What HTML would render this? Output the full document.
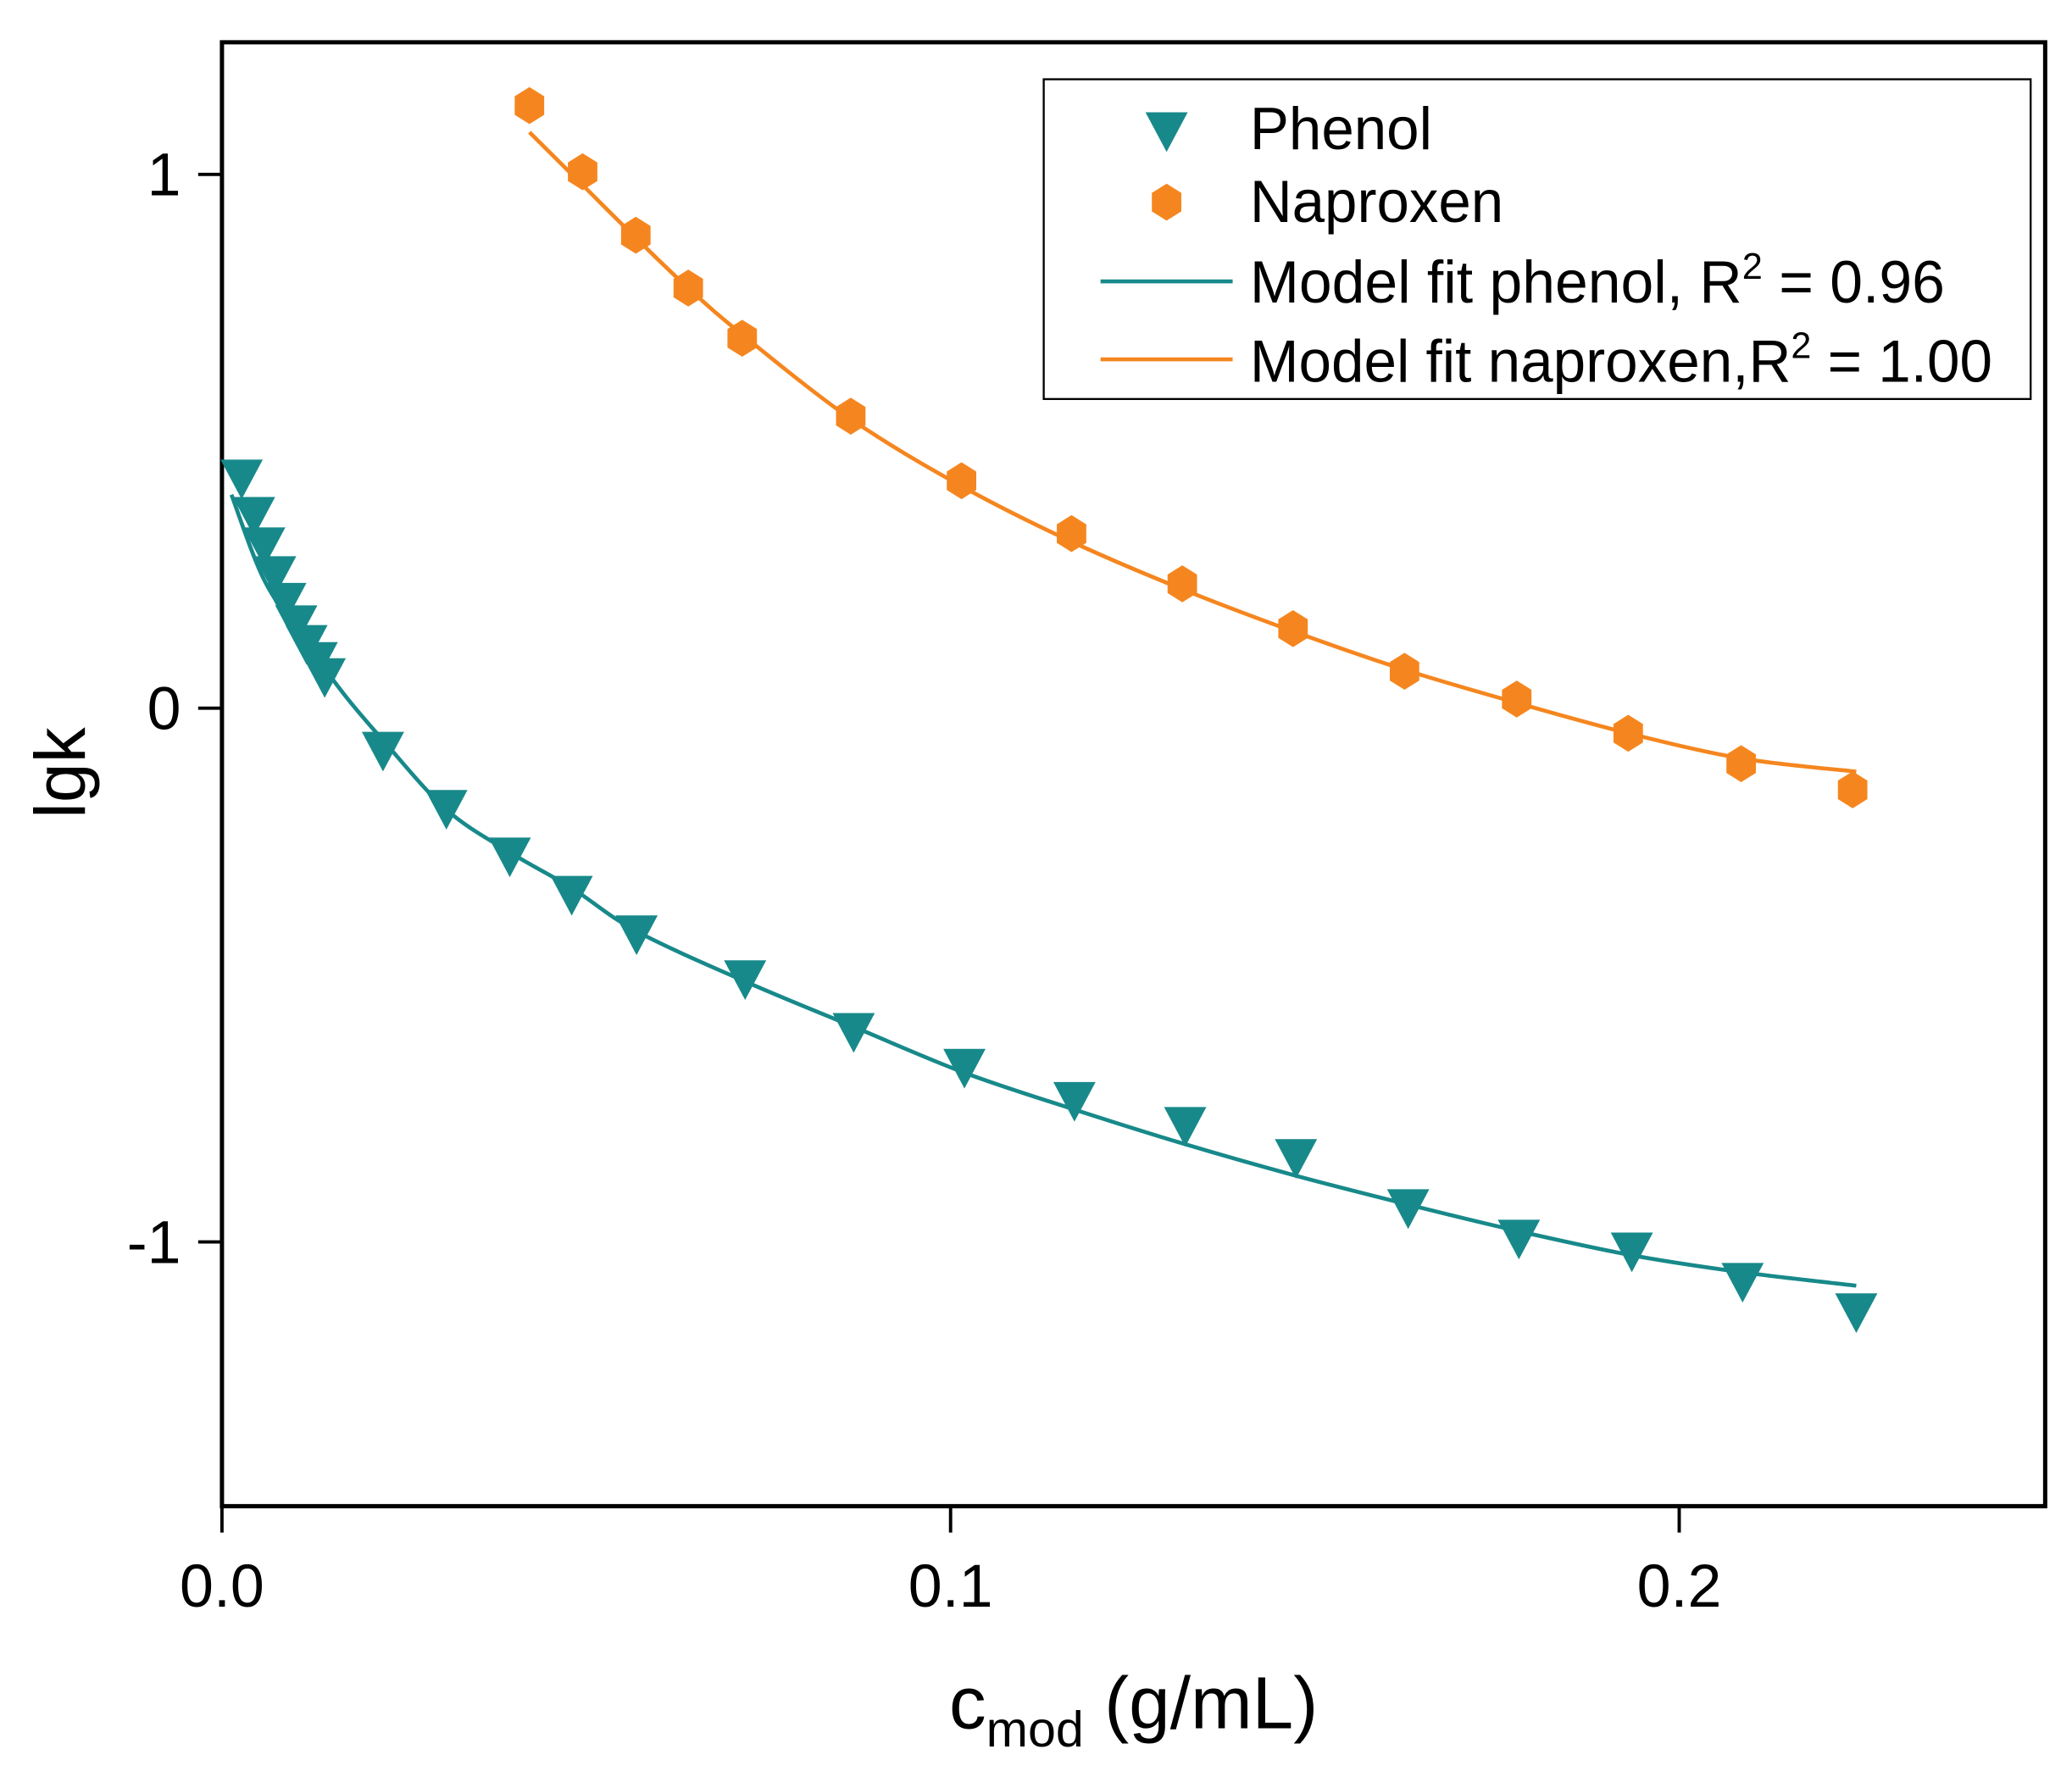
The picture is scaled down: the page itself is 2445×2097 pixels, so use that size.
<!DOCTYPE html>
<html><head><meta charset="utf-8"><style>html,body{margin:0;padding:0;background:#fff}svg{display:block}</style></head>
<body>
<svg id="chart" width="2445" height="2097" viewBox="0 0 1568.3 1345" preserveAspectRatio="none" xmlns="http://www.w3.org/2000/svg" font-family="'Liberation Sans', sans-serif"></svg>
<script>
const phenolX=[0.0027,0.0044,0.0058,0.0073,0.0087,0.0102,0.0116,0.013,0.0141,0.0221,0.0308,0.0395,0.048,0.0569,0.0718,0.0867,0.1019,0.117,0.1322,0.1474,0.1628,0.178,0.1935,0.2087,0.2243];
const phenolY=[0.431,0.361,0.304,0.25,0.2,0.158,0.121,0.089,0.059,-0.079,-0.188,-0.277,-0.349,-0.423,-0.507,-0.606,-0.673,-0.735,-0.782,-0.842,-0.936,-0.993,-1.017,-1.074,-1.131];
const naproxenX=[0.0422,0.0495,0.0568,0.064,0.0714,0.0863,0.1015,0.1166,0.1318,0.147,0.1623,0.1777,0.193,0.2085,0.2238];
const naproxenY=[1.129,1.005,0.886,0.787,0.693,0.547,0.426,0.327,0.233,0.149,0.069,0.017,-0.047,-0.104,-0.153];
const phenolFitX=[0.0013,0.0058,0.0112,0.0167,0.0221,0.0308,0.0395,0.048,0.0569,0.0718,0.0867,0.1019,0.117,0.1322,0.1474,0.1628,0.178,0.1935,0.2087,0.2243];
const phenolFitY=[0.40,0.24,0.13,0.027,-0.06,-0.19,-0.27,-0.337,-0.418,-0.512,-0.597,-0.683,-0.752,-0.817,-0.876,-0.93,-0.98,-1.025,-1.057,-1.082];
const naproxenFitX=[0.0422,0.0495,0.0568,0.064,0.0714,0.0863,0.1015,0.1166,0.1318,0.147,0.1623,0.1777,0.193,0.2085,0.2243];
const naproxenFitY=[1.079,0.98,0.881,0.787,0.70,0.542,0.416,0.312,0.223,0.144,0.072,0.01,-0.047,-0.094,-0.119];
const xTicks=[0,0.1,0.2];
const xTickLabels=["0.0","0.1","0.2"];
const yTicks=[1,0,-1];
const yTickLabels=["1","0","-1"];

const NS="http://www.w3.org/2000/svg";
const svg=document.getElementById('chart');
const L=168,R=1548,T=32,B=1140;
function sx(v){return L+v*5515;}
function sy(v){return 536-v*404;}
function mk(tag,attrs,parent){const e=document.createElementNS(NS,tag);for(const k in attrs)e.setAttribute(k,attrs[k]);(parent||svg).appendChild(e);return e;}
const TEAL="#18898a",ORANGE="#f5861f";

const frame=mk('rect',{x:L,y:T,width:R-L,height:B-T,fill:'none',stroke:'#000','stroke-width':3.2});



xTicks.forEach((t,i)=>{
  const ln=mk('line',{x1:sx(t),x2:sx(t),y1:B,y2:B+20,stroke:'#000','stroke-width':2.5});
  
  
  const tx=mk('text',{x:sx(t),y:1216,'font-size':46,'text-anchor':'middle',textLength:64,lengthAdjust:'spacingAndGlyphs'});
  tx.textContent=xTickLabels[i];
  
  
});
yTicks.forEach((t,i)=>{
  const ln=mk('line',{x1:L-18,x2:L,y1:sy(t),y2:sy(t),stroke:'#000','stroke-width':2.5});
  
  
  const tx=mk('text',{x:137,y:sy(t)+16,'font-size':46,'text-anchor':'end'});
  tx.textContent=yTickLabels[i];
  
  
});

const yt=mk('text',{x:0,y:0,'font-size':54,'text-anchor':'middle',transform:'translate(64,585) rotate(-90)'});
yt.textContent='lgk';


const xt=mk('text',{x:858,y:1308,'font-size':56,'text-anchor':'middle'});
xt.innerHTML='c<tspan font-size="38" dy="14">mod</tspan><tspan dy="-14"> (g/mL)</tspan>';



function line(xs,ys,color,name){
  const P=xs.map((x,i)=>[sx(x),sy(ys[i])]);
  let d='M'+P[0][0]+','+P[0][1];
  for(let i=0;i<P.length-1;i++){
    const p0=P[Math.max(0,i-1)],p1=P[i],p2=P[i+1],p3=P[Math.min(P.length-1,i+2)];
    const c1=[p1[0]+(p2[0]-p0[0])/6,p1[1]+(p2[1]-p0[1])/6];
    const c2=[p2[0]-(p3[0]-p1[0])/6,p2[1]-(p3[1]-p1[1])/6];
    d+=` C${c1[0]},${c1[1]} ${c2[0]},${c2[1]} ${p2[0]},${p2[1]}`;
  }
  const p=mk('path',{d:d,fill:'none',stroke:color,'stroke-width':3,'stroke-linejoin':'round'});
  
  
}
function tri(cx,cy,parent){return mk('polygon',{points:`${cx-16},${cy-14} ${cx+16},${cy-14} ${cx},${cy+16}`,fill:TEAL},parent);}
function hex(cx,cy,parent){const r=14;let p=[];for(let k=0;k<6;k++){const a=Math.PI/3*k-Math.PI/2;p.push((cx+r*0.92*Math.cos(a))+','+(cy+r*Math.sin(a)));}return mk('polygon',{points:p.join(' '),fill:ORANGE},parent);}

line(phenolFitX,phenolFitY,TEAL,'phenol-fit-line');
line(naproxenFitX,naproxenFitY,ORANGE,'naproxen-fit-line');
phenolX.forEach((x,i)=>{const m=tri(sx(x),sy(phenolY[i]));
  
  });
naproxenX.forEach((x,i)=>{const m=hex(sx(x),sy(naproxenY[i]));
  
  });

const lg=mk('g',{});


mk('rect',{x:790,y:60,width:747,height:242,fill:'#fff',stroke:'#000','stroke-width':1.5},lg);
const e1=tri(883,99,lg);
const e2=hex(883,153,lg);
const l1=mk('line',{x1:833,x2:933,y1:213,y2:213,stroke:TEAL,'stroke-width':3},lg);
const l2=mk('line',{x1:833,x2:933,y1:272,y2:272,stroke:ORANGE,'stroke-width':3},lg);
const labels=[['Phenol',113,138,'legend-phenol-label'],['Naproxen',168,192,'legend-naproxen-label']];
labels.forEach(([t,y,w,n])=>{const e=mk('text',{x:946,y:y,'font-size':45,textLength:w,lengthAdjust:'spacingAndGlyphs'},lg);e.textContent=t;
  });
const t3=mk('text',{x:946,y:229,'font-size':45,textLength:526,lengthAdjust:'spacingAndGlyphs'},lg);
t3.innerHTML='Model fit phenol, R<tspan font-size="28" dy="-18">2</tspan><tspan dy="18"> = 0.96</tspan>';


const t4=mk('text',{x:946,y:289,'font-size':45,textLength:562,lengthAdjust:'spacingAndGlyphs'},lg);
t4.innerHTML='Model fit naproxen,R<tspan font-size="28" dy="-18">2</tspan><tspan dy="18"> = 1.00</tspan>';


</script>
</body></html>
